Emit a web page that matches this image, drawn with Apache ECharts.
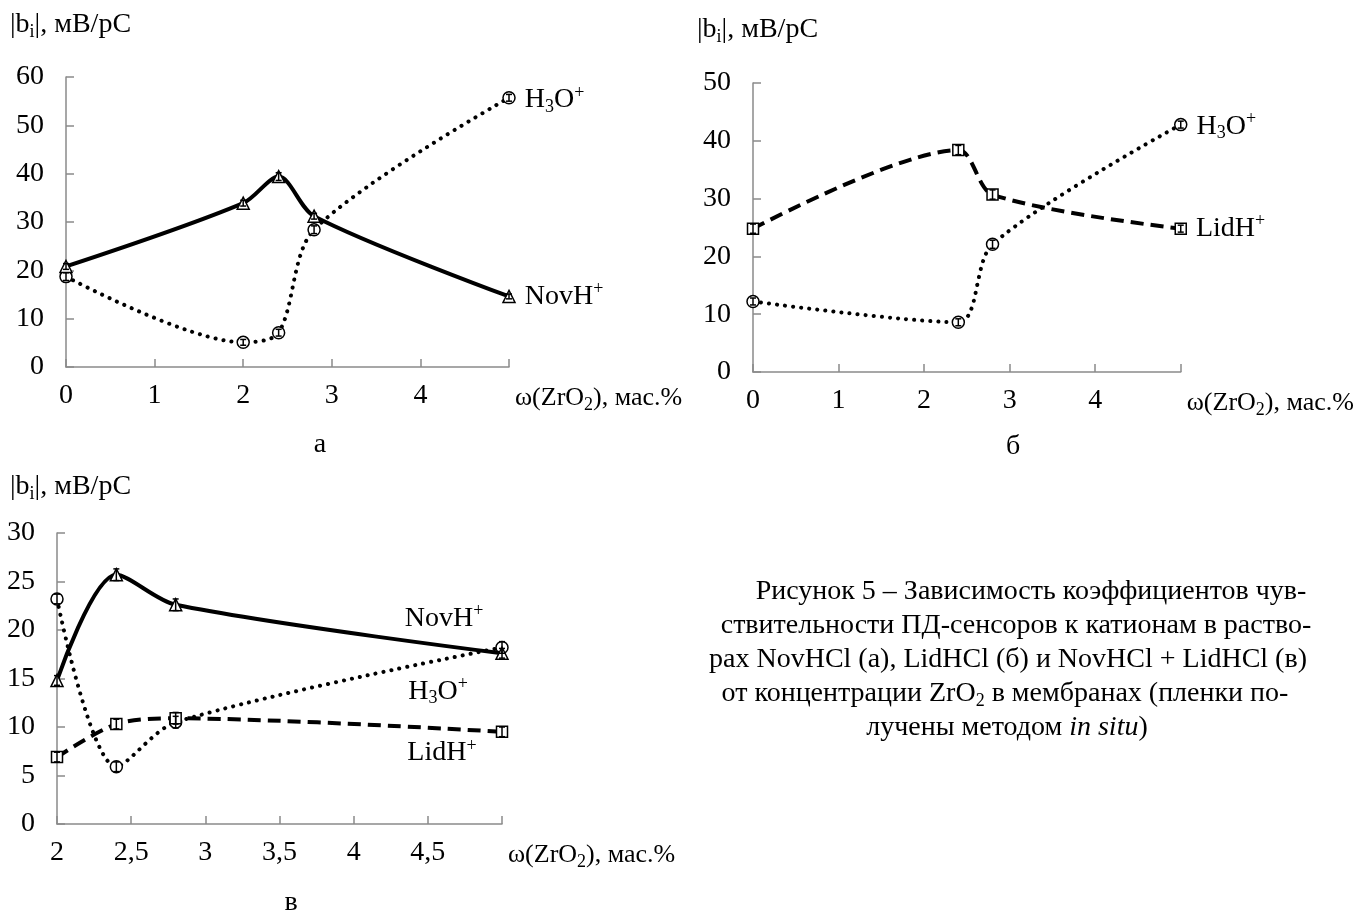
<!DOCTYPE html>
<html>
<head>
<meta charset="utf-8">
<script src="https://cdn.jsdelivr.net/npm/echarts@6/dist/echarts.min.js"></script>
<style>
  html, body { margin: 0; padding: 0; background: #fff; }
  #chart { width: 1355px; height: 914px; }
</style>
</head>
<body>
<div id="chart"></div>
<script>
// panel а: NovHCl
const xA = [0, 2, 2.4, 2.8, 5];
const novA = [20.8, 33.9, 39.4, 31.2, 14.6];
const h3oA = [18.7, 5.1, 7.1, 28.4, 55.7];
const errNovA = [0.6, 0.6, 0.8, 0.6, 0.5];
const errH3oA = [0.8, 0.6, 0.7, 0.8, 0.7];
// panel б: LidHCl
const xB = [0, 2.4, 2.8, 5];
const lidB = [24.8, 38.4, 30.7, 24.8];
const h3oB = [12.2, 8.6, 22.1, 42.8];
const errLidB = [0.8, 0.8, 0.8, 0.6];
const errH3oB = [0.6, 0.6, 0.7, 0.6];
// panel в: NovHCl + LidHCl
const xC = [2, 2.4, 2.8, 5];
const novC = [14.8, 25.7, 22.6, 17.6];
const h3oC = [23.2, 5.9, 10.5, 18.2];
const lidC = [6.9, 10.3, 10.9, 9.5];
const errNovC = [0.5, 0.6, 0.6, 0.5];
const errH3oC = [0.5, 0.5, 0.6, 0.6];
const errLidC = [0.5, 0.5, 0.6, 0.5];

const yTicksA = [0, 60, 10];
const yTicksB = [0, 50, 10];
const yTicksC = [0, 30, 5];

const FONT = '"Liberation Serif", "DejaVu Serif", serif';
const FS = 28;

const rich = {
  n: { fontFamily: FONT, fontSize: FS, color: '#000', lineHeight: 32 },
  s: { fontFamily: FONT, fontSize: 26, color: '#000', lineHeight: 32 },
  sub: { fontFamily: FONT, fontSize: 18, color: '#000', lineHeight: 18, verticalAlign: 'bottom' },
  sup: { fontFamily: FONT, fontSize: 18, color: '#000', lineHeight: 18, verticalAlign: 'top' },
  it: { fontFamily: FONT, fontSize: FS, color: '#000', lineHeight: 32, fontStyle: 'italic' }
};

function pairs(xs, ys) {
  return xs.map((x, i) => [x, ys[i]]);
}

function lastLabel(data, text, pos, offset) {
  const d = data.slice();
  const k = d.length - 1;
  d[k] = {
    value: d[k],
    label: { show: true, position: pos, offset: offset, formatter: text, rich: rich }
  };
  return d;
}

const LINE = {
  solid: { color: '#000', width: 4, type: 'solid' },
  dotted: { color: '#000', width: 4, type: [0.1, 8], cap: 'round' },
  dashed: { color: '#000', width: 4, type: [13, 7] }
};

function series(gi, data, kind, symbol) {
  return {
    type: 'line',
    xAxisIndex: gi, yAxisIndex: gi,
    data: data,
    smooth: 0.3,
    symbol: symbol,
    symbolSize: symbol === 'rect' ? 11 : 12,
    showAllSymbol: true,
    lineStyle: LINE[kind],
    itemStyle: { color: '#fff', borderColor: '#000', borderWidth: 1.5 },
    emphasis: { disabled: true },
    z: kind === 'solid' ? 3 : 2
  };
}

// error bars: small vertical whiskers with caps through each marker
function errBars(gi, xs, ys, es) {
  return {
    type: 'custom',
    xAxisIndex: gi, yAxisIndex: gi,
    data: xs.map((x, i) => [x, ys[i] - es[i], ys[i] + es[i]]),
    renderItem: function (params, api) {
      const lo = api.coord([api.value(0), api.value(1)]);
      const hi = api.coord([api.value(0), api.value(2)]);
      const c = 3;
      return {
        type: 'group',
        children: [
          { type: 'line', shape: { x1: lo[0], y1: lo[1], x2: hi[0], y2: hi[1] }, style: { stroke: '#000', lineWidth: 1.5 } },
          { type: 'line', shape: { x1: lo[0] - c, y1: lo[1], x2: lo[0] + c, y2: lo[1] }, style: { stroke: '#000', lineWidth: 1.5 } },
          { type: 'line', shape: { x1: hi[0] - c, y1: hi[1], x2: hi[0] + c, y2: hi[1] }, style: { stroke: '#000', lineWidth: 1.5 } }
        ]
      };
    },
    silent: true,
    z: 5
  };
}

function xAxis(gi, min, max, step, comma) {
  return {
    type: 'value', gridIndex: gi, min: min, max: max, interval: step,
    axisLine: { show: true, lineStyle: { color: '#8a8a8a', width: 1.5 } },
    axisTick: { show: true, inside: true, length: 8, lineStyle: { color: '#8a8a8a', width: 1.5 } },
    splitLine: { show: false },
    axisLabel: {
      margin: 15, fontFamily: FONT, fontSize: FS, color: '#000',
      formatter: v => v === max ? '' : (comma ? String(v).replace('.', ',') : String(v))
    },
    name: '{s|ω(ZrO}{sub|2}{s|), мас.%}',
    nameLocation: 'end', nameGap: 6,
    nameTextStyle: { rich: rich, verticalAlign: 'top', padding: [15, 0, 0, 0] }
  };
}

function yAxis(gi, t) {
  return {
    type: 'value', gridIndex: gi, min: t[0], max: t[1], interval: t[2],
    axisLine: { show: true, lineStyle: { color: '#8a8a8a', width: 1.5 } },
    axisTick: { show: true, inside: true, length: 8, lineStyle: { color: '#8a8a8a', width: 1.5 } },
    splitLine: { show: false },
    axisLabel: { margin: 22, fontFamily: FONT, fontSize: FS, color: '#000' }
  };
}

const H3O = '{n|H}{sub|3}{n|O}{sup|+}';
const NOV = '{n|NovH}{sup|+}';
const LID = '{n|LidH}{sup|+}';
const YNAME = '{n||b}{sub|i}{n||, мВ/рС}';

function txt(x, y, text, align) {
  return {
    type: 'text', x: x, y: y,
    style: { text: text, rich: rich, align: align || 'left', verticalAlign: 'middle',
             font: FS + 'px ' + FONT, fill: '#000' }
  };
}

const caption = [
  [1031, 592, '{n|Рисунок 5 – Зависимость коэффициентов чув-}'],
  [1016, 626, '{n|ствительности ПД-сенсоров к катионам в раство-}'],
  [1008, 660, '{n|рах NovHCl (а), LidHCl (б) и NovHCl + LidHCl (в)}'],
  [1005, 694, '{n|от концентрации ZrO}{sub|2}{n| в мембранах (пленки по-}'],
  [1007, 728, '{n|лучены методом }{it|in situ}{n|)}']
];

const chart = echarts.init(document.getElementById('chart'), null, { renderer: 'canvas' });
chart.setOption({
  backgroundColor: '#fff',
  animation: false,
  grid: [
    { left: 66, top: 77, width: 443, height: 290 },
    { left: 753, top: 83, width: 442, height: 289 },
    { left: 57, top: 533, width: 445, height: 291 }
  ],
  xAxis: [xAxis(0, 0, 5, 1, false), xAxis(1, 0, 5, 1, false), xAxis(2, 2, 5, 0.5, true)],
  yAxis: [yAxis(0, yTicksA), yAxis(1, yTicksB), yAxis(2, yTicksC)],
  series: [
    series(0, lastLabel(pairs(xA, novA), NOV, 'right', [4, 0]), 'solid', 'triangle'),
    series(0, lastLabel(pairs(xA, h3oA), H3O, 'right', [4, 2]), 'dotted', 'circle'),
    series(1, lastLabel(pairs(xB, lidB), LID, 'right', [4, 0]), 'dashed', 'rect'),
    series(1, lastLabel(pairs(xB, h3oB), H3O, 'right', [4, 2]), 'dotted', 'circle'),
    series(2, lastLabel(pairs(xC, novC), NOV, 'inside', [-58, -35]), 'solid', 'triangle'),
    series(2, lastLabel(pairs(xC, h3oC), H3O, 'inside', [-64, 44]), 'dotted', 'circle'),
    series(2, lastLabel(pairs(xC, lidC), LID, 'inside', [-60, 21]), 'dashed', 'rect'),
    errBars(0, xA, novA, errNovA),
    errBars(0, xA, h3oA, errH3oA),
    errBars(1, xB, lidB, errLidB),
    errBars(1, xB, h3oB, errH3oB),
    errBars(2, xC, novC, errNovC),
    errBars(2, xC, h3oC, errH3oC),
    errBars(2, xC, lidC, errLidC)
  ],
  graphic: [
    txt(10, 25, YNAME),
    txt(697, 30, YNAME),
    txt(10, 487, YNAME),
    txt(320, 445, '{n|а}', 'center'),
    txt(1013, 447, '{n|б}', 'center'),
    txt(291, 903, '{n|в}', 'center')
  ].concat(caption.map(c => txt(c[0], c[1], c[2], 'center')))
});
</script>
</body>
</html>
